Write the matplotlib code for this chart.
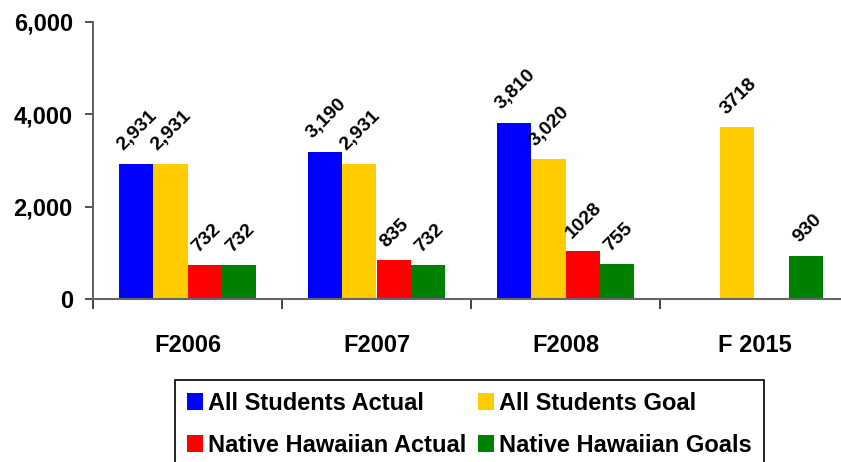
import matplotlib
matplotlib.use("Agg")
import matplotlib.pyplot as plt
import numpy as np
from matplotlib.ticker import FuncFormatter

plt.rcParams['font.family'] = ['Liberation Sans', 'DejaVu Sans']
plt.rcParams['font.weight'] = 'bold'

categories = ["F2006", "F2007", "F2008", "F 2015"]
series_names = ["All Students Actual", "All Students Goal",
                "Native Hawaiian Actual", "Native Hawaiian Goals"]
all_actual = [2931, 3190, 3810, None]
all_goal = [2931, 2931, 3020, 3718]
nh_actual = [732, 835, 1028, None]
nh_goal = [732, 732, 755, 930]
all_actual_lbl = ["2,931", "3,190", "3,810", ""]
all_goal_lbl = ["2,931", "2,931", "3,020", "3718"]
nh_actual_lbl = ["732", "835", "1028", ""]
nh_goal_lbl = ["732", "732", "755", "930"]
colors = ["#0000FF", "#FFCC00", "#FF0000", "#008000"]
yticks = [0, 2000, 4000, 6000]

series = [all_actual, all_goal, nh_actual, nh_goal]
labels = [all_actual_lbl, all_goal_lbl, nh_actual_lbl, nh_goal_lbl]

fig = plt.figure(figsize=(8.41, 4.62), dpi=100)
ax = fig.add_axes([93/841, 1 - 299/462, (849-93)/841, (299-21.7)/462])

x = np.arange(len(categories))
bw = 0.182
handles = []
for i, (vals, lbls, c, name) in enumerate(zip(series, labels, colors, series_names)):
    off = (i - 1.5) * bw
    xs = [xi + off for xi, v in zip(x, vals) if v is not None]
    vs = [v for v in vals if v is not None]
    ls = [l for l, v in zip(lbls, vals) if v is not None]
    b = ax.bar(xs, vs, width=bw, color=c, label=name, linewidth=0, zorder=2)
    handles.append(b)
    for xx, vv, ll in zip(xs, vs, ls):
        ax.annotate(ll, xy=(xx, vv), xytext=(1, 7), textcoords='offset points',
                    ha='center', va='bottom', rotation=45, fontsize=14,
                    fontweight='bold', color='black')

ax.set_xlim(-0.5, 3.5)
ax.set_ylim(0, 6000)
ax.set_yticks(yticks)
ax.yaxis.set_major_formatter(FuncFormatter(lambda v, p: f"{int(v):,}"))
ax.set_xticks([-0.5, 0.5, 1.5, 2.5, 3.5])
ax.set_xticklabels([])
ax.set_xticks(x, minor=True)
ax.set_xticklabels(categories, minor=True)
ax.tick_params(axis='x', which='major', length=7, width=1.2, color='#222222', direction='out')
ax.tick_params(axis='x', which='minor', length=0, pad=25, labelsize=17)
ax.tick_params(axis='y', which='major', length=5.5, width=1.2, color='#333333',
               pad=9, labelsize=17)
for lbl in ax.get_xticklabels(minor=True) + ax.get_yticklabels():
    lbl.set_fontweight('bold')

for s in ['top', 'right']:
    ax.spines[s].set_visible(False)
ax.spines['left'].set_color('#555555')
ax.spines['bottom'].set_color('#666666')
ax.spines['left'].set_linewidth(1.3)
ax.spines['bottom'].set_linewidth(1.5)

order = [0, 2, 1, 3]
leg = fig.legend([handles[k] for k in order], [series_names[k] for k in order],
                 loc='upper left', bbox_to_anchor=(175/841, 1 - 380/462),
                 bbox_transform=fig.transFigure, borderaxespad=0, ncol=2,
                 frameon=True, fancybox=False, edgecolor='black', framealpha=1,
                 prop={'weight': 'bold', 'size': 17},
                 handlelength=0.68, handleheight=0.72, handletextpad=0.22,
                 columnspacing=0.5, labelspacing=0.8, borderpad=0.5)
leg.get_frame().set_linewidth(1.2)

fig.savefig("out.png", dpi=100)
